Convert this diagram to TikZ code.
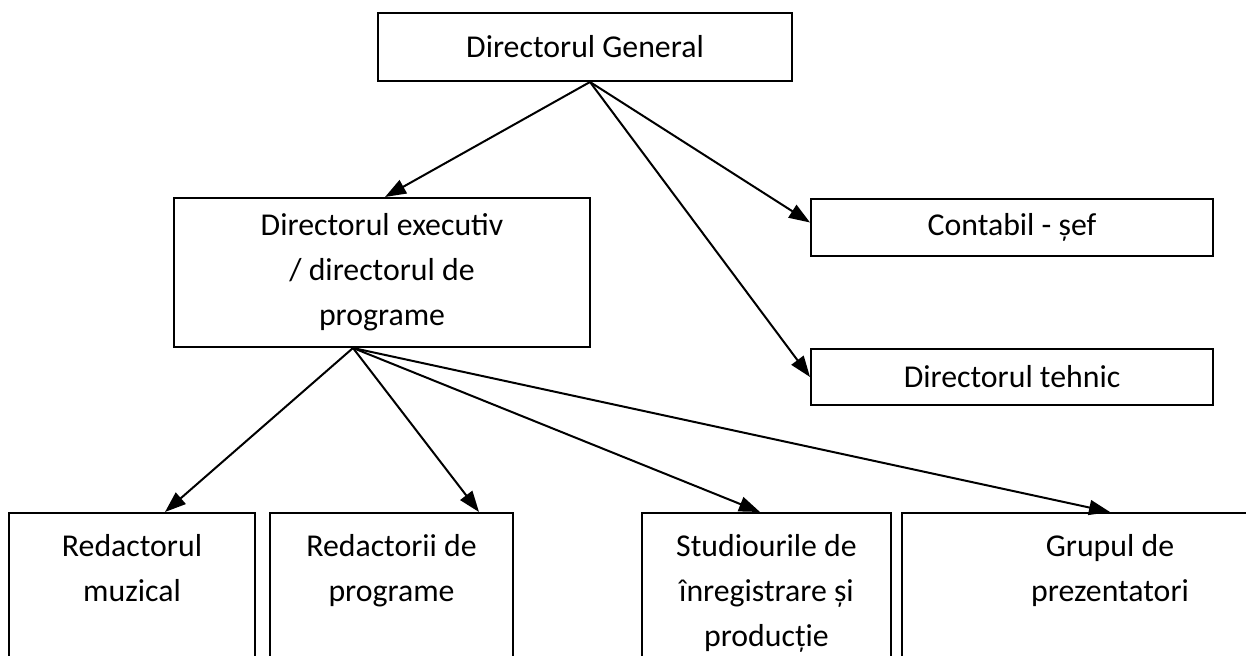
\documentclass[tikz,border=0pt]{standalone}
\usepackage{fontspec}
\setmainfont{Carlito}
\usetikzlibrary{positioning}
\usetikzlibrary{calc,arrows.meta}
\tikzset{
	-{Triangle[length=10.5pt,width=7.5pt]},
	box/.style = {rectangle, draw, line width=1pt, align=center, inner sep=0pt,
		font=\fontsize{15.9}{22.5}\selectfont},
	low/.style = {box, anchor=north, inner ysep=10.5pt, text depth=90pt},
}
\begin{document}
\begin{tikzpicture}[x=0.5pt, y=-0.5pt, line width=1pt]
	\useasboundingbox (0,0) rectangle (1246,656);
	\clip (0,0) rectangle (1246,656);
	\node (gen) [box, minimum width=207pt, minimum height=34pt] at (585,47) {Directorul General};
	\node (exec) [box, minimum width=208pt, minimum height=74.5pt] at (382,272.5)
		{Directorul executiv\\ / directorul de\\ programe};
	\node (cont) [box, minimum width=201pt, minimum height=28.5pt] at (1012,227.5) {Contabil - șef};
	\node (teh) [box, minimum width=201pt, minimum height=28pt] at (1012,377) {Directorul tehnic};
	\node (muz) [low, minimum width=123pt] at (132,512) {Redactorul\\ muzical};
	\node (red) [low, minimum width=121.5pt] at (391.5,512) {Redactorii de\\ programe};
	\node (stud) [low, minimum width=124.5pt] at (766.5,512) {Studiourile de\\ înregistrare și\\ producție};
	\node (grup) [low, minimum width=208pt] at (1110,512) {Grupul de\\ prezentatori};
	\coordinate (g0) at ($(gen.south)+(5,0)$);
	\coordinate (e0) at ($(exec.south)+(-29,0)$);
	\path (g0) edge ($(exec.north)+(3,0)$);
	\path (g0) edge ($(cont.west)+(0,-5)$);
	\path (g0) edge (teh.west);
	\path (e0) edge ($(muz.north)+(33,0)$);
	\path (e0) edge ($(red.north)+(87.5,0)$);
	\path (e0) edge ($(stud.north)+(-6.5,0)$);
	\path (e0) edge (grup.north);
\end{tikzpicture}
\end{document}
